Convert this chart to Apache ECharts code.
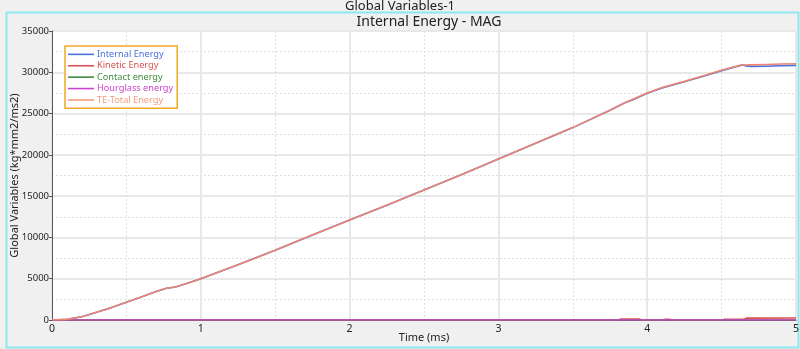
<!DOCTYPE html>
<html><head><meta charset="utf-8">
<script src="https://cdn.jsdelivr.net/npm/echarts@6/dist/echarts.min.js"></script>
<style>html,body{margin:0;padding:0;background:#f0f0f0}#c{width:800px;height:349px}</style>
</head><body><div id="c"></div>
<script>
const seriesNames = ['Internal Energy','Kinetic Energy','Contact energy','Hourglass energy','TE-Total Energy'];
const xTicks = [0,1,2,3,4,5];
const yTicks = [0,5000,10000,15000,20000,25000,30000,35000];

const internalT = [0,0.1,0.2,0.3,0.4,0.5,0.6,0.7,0.77,0.83,0.9,1.0,1.25,1.5,1.75,2.0,2.25,2.5,2.75,3.0,3.25,3.5,3.75,3.85,3.9,4.0,4.1,4.25,4.4,4.5,4.64,4.66,4.7,4.8,4.9,5.0];
const internalV = [0,80,400,950,1500,2150,2800,3450,3850,4000,4400,5000,6700,8450,10300,12100,13900,15750,17600,19500,21400,23300,25400,26300,26650,27450,28100,28850,29650,30200,30900,30780,30720,30740,30800,30840];
const totalT = [0,0.1,0.2,0.3,0.4,0.5,0.6,0.7,0.77,0.83,0.9,1.0,1.25,1.5,1.75,2.0,2.25,2.5,2.75,3.0,3.25,3.5,3.75,3.85,3.9,4.0,4.1,4.25,4.4,4.5,4.64,4.66,4.7,4.8,4.9,5.0];
const totalV = [0,80,400,950,1500,2150,2800,3450,3850,4000,4400,5000,6700,8450,10300,12100,13900,15750,17600,19500,21400,23300,25400,26300,26700,27500,28150,28900,29700,30250,30920,30880,30900,30950,31000,31040];
const kineticT = [0,3.8,3.82,3.95,3.97,4.1,4.12,4.15,4.17,4.5,4.52,4.65,4.67,5.0];
const kineticV = [0,0,100,100,0,0,80,80,0,0,80,80,230,250];
const contactT = [0,5];
const contactV = [0,0];
const hourglassT = [0,5];
const hourglassV = [0,0];

const colors = ['#4a70e0','#d9534f','#3c8c3c','#cc44cc','#f59c7c'];
const lineColors = ['#4a70e0','#d9534f','#3c8c3c','#cc44cc','#ec8670'];
function pairs(t,v){return t.map((x,i)=>[x,v[i]]);}
const data = [pairs(internalT,internalV),pairs(kineticT,kineticV),pairs(contactT,contactV),pairs(hourglassT,hourglassV),pairs(totalT,totalV)];

const chart = echarts.init(document.getElementById('c'));
chart.setOption({
  backgroundColor:'#f0f0f0',
  animation:false,
  title:[
    {text:'Global Variables-1',left:'center',top:-5,textStyle:{fontFamily:'Noto Sans',fontSize:13,fontWeight:'normal',color:'#222'}},
    {text:'Internal Energy - MAG',left:424,textAlign:'center',top:10,textStyle:{fontFamily:'Noto Sans',fontSize:14,fontWeight:'normal',color:'#222'}}
  ],
  graphic:[{type:'rect',shape:{x:6.5,y:12.5,width:792,height:335},style:{fill:'none',stroke:'#8ee8ee',lineWidth:2},silent:true,z:-1}],
  legend:{
    orient:'vertical',left:65,top:46,
    data:seriesNames.map((n,i)=>({name:n,textStyle:{color:colors[i]}})),
    icon:'rect',
    backgroundColor:'#fff',borderColor:'#f5a623',borderWidth:1.5,borderRadius:0,
    padding:[3,4,3,3],itemGap:0.7,itemWidth:26,itemHeight:1.6,
    textStyle:{fontFamily:'Noto Sans',fontSize:9.2,lineHeight:10.7,padding:[0,0,0,-2]},
    selectedMode:false
  },
  grid:{left:52,right:4,top:31,bottom:29,containLabel:false,outerBoundsMode:'none',show:true,backgroundColor:'#fff',borderColor:'#666',borderWidth:1},
  xAxis:{
    type:'value',min:0,max:5,interval:1,
    name:'Time (ms)',nameLocation:'middle',nameGap:12,nameMoveOverlap:false,
    nameTextStyle:{fontFamily:'Noto Sans',fontSize:11,color:'#222',verticalAlign:'top'},
    axisLine:{lineStyle:{color:'#555'}},
    axisTick:{show:false},
    axisLabel:{fontFamily:'Noto Sans',fontSize:10.5,color:'#222',margin:4},
    splitLine:{lineStyle:{color:'#e8e8e8',width:2}},
    minorTick:{show:false,splitNumber:2},
    minorSplitLine:{show:true,lineStyle:{color:'#e0e0e0',type:[2,2]}}
  },
  yAxis:{
    type:'value',min:0,max:35000,interval:5000,
    name:'Global Variables (kg*mm2/ms2)',nameLocation:'middle',nameGap:32,nameMoveOverlap:false,
    nameTextStyle:{fontFamily:'Noto Sans',fontSize:11,color:'#222'},
    axisLine:{show:true,lineStyle:{color:'#555'}},
    axisTick:{show:true,length:3,lineStyle:{color:'#555'}},
    axisLabel:{fontFamily:'Noto Sans',fontSize:9.5,color:'#222',margin:3,formatter:v=>String(v)},
    splitLine:{lineStyle:{color:'#e8e8e8',width:2}},
    minorTick:{show:false,splitNumber:2},
    minorSplitLine:{show:true,lineStyle:{color:'#e0e0e0',type:[2,2]}}
  },
  series: seriesNames.map((n,i)=>({
    name:n,type:'line',data:data[i],symbol:'none',
    itemStyle:{color:colors[i]},lineStyle:{color:lineColors[i],width:1.6},
    z:2+i
  }))
});
</script></body></html>
